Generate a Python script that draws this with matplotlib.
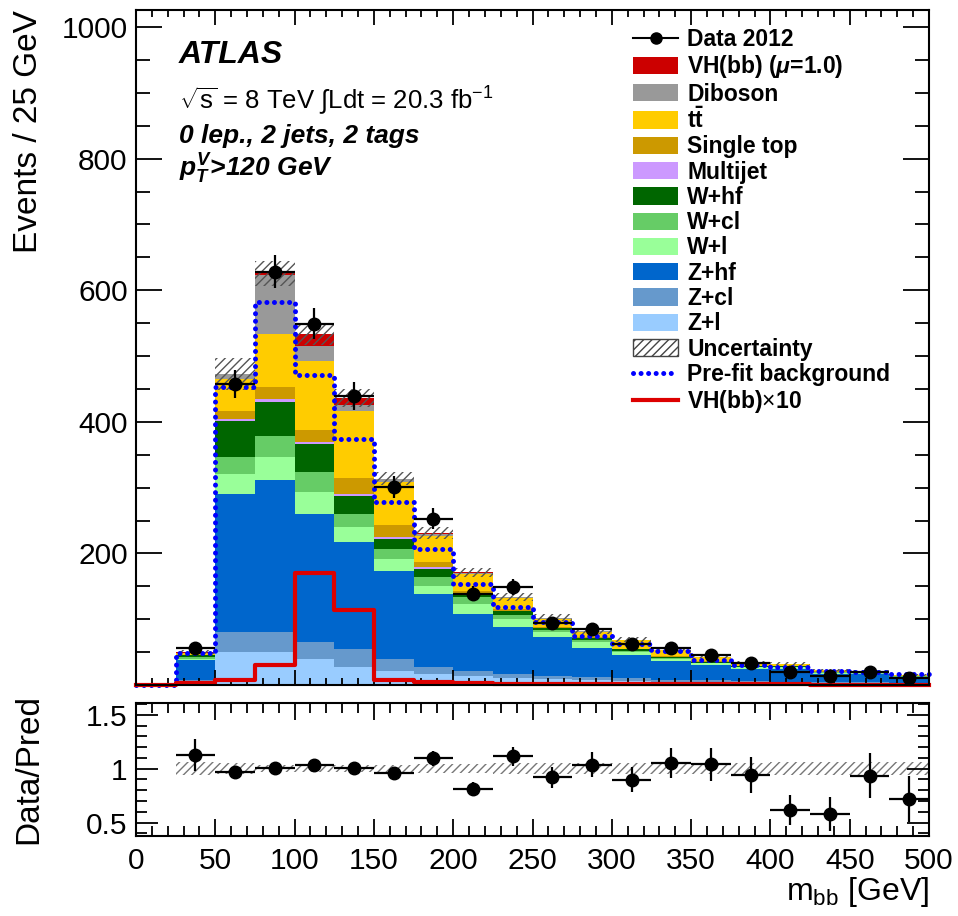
import numpy as np
import matplotlib
matplotlib.use('Agg')
import matplotlib.pyplot as plt
from matplotlib.patches import Patch
from matplotlib.lines import Line2D
from matplotlib.ticker import MultipleLocator, FixedLocator

plt.rcParams['font.family'] = ['Liberation Sans', 'DejaVu Sans']
plt.rcParams['mathtext.fontset'] = 'custom'
plt.rcParams['mathtext.rm'] = 'Liberation Sans'
plt.rcParams['mathtext.it'] = 'Liberation Sans:italic:bold'
plt.rcParams['mathtext.bf'] = 'Liberation Sans:bold'
plt.rcParams['hatch.linewidth'] = 1.0

# ---------------- data ----------------
bin_edges = np.arange(0, 525, 25)
data = [0, 56, 458, 628, 549, 439, 301, 253, 139, 149, 94, 85, 62, 56, 45, 33, 20, 13, 20, 11]

z_l   = [0, 4, 50, 50, 40, 27, 22, 17, 14, 11, 9, 7, 6, 5, 4, 3, 3, 2, 2, 2]
z_cl  = [0, 3, 30, 30, 25, 28, 18, 11, 8, 6, 5, 5, 4, 3, 3, 3, 2, 2, 2, 1]
z_hf  = [0, 31, 211, 231, 195, 162, 134, 111, 86, 71, 59, 45, 35, 29, 23, 19, 20, 13, 12.5, 8.5]
w_l   = [0, 2, 30, 36, 33, 23, 18, 12, 15, 13, 7, 8, 5, 3, 3, 2, 2, 1.5, 1.5, 1.2]
w_cl  = [0, 2, 26, 32, 31, 20, 15, 13, 11, 6, 3, 3, 2, 1, 1, 1, 1, 1, 0.8, 0.6]
w_hf  = [0, 3, 55, 51, 43, 28, 15, 13, 5, 5, 3, 3, 2, 1.5, 1, 1, 1, 0.8, 0.8, 0.6]
multijet = [0, 0.3, 3, 4, 3, 3, 3, 3, 1, 1, 0.5, 0.5, 0.3, 0.2, 0.2, 0.1, 0.1, 0.1, 0.1, 0.1]
single_top = [0, 1, 12, 19, 17, 23, 18, 7, 3, 2, 1.5, 1, 1, 0.8, 0.6, 0.5, 0.4, 0.3, 0.2, 0.2]
ttbar = [0, 2.5, 48, 81, 106, 103, 65, 40, 26, 17, 13, 8.5, 13, 9, 7, 5, 2.5, 1.5, 1.2, 1.0]
diboson = [0, 0.5, 7, 89, 23, 8, 5, 3, 2, 1.5, 1, 0.8, 0.7, 0.5, 0.4, 0.3, 0.3, 0.2, 0.2, 0.1]
vh = [0, 0.3, 0.7, 3, 17, 11.4, 0.8, 0.4, 0.3, 0.2, 0.2, 0.1, 0.1, 0.1, 0.1, 0.1, 0.1, 0.05, 0.05, 0.05]
prefit = [0, 48, 453, 582, 471, 374, 278, 207, 153, 118, 96, 74, 63, 51, 38, 30, 27, 22, 20, 17]
unc_frac = [0, 0.06, 0.05, 0.03, 0.03, 0.03, 0.03, 0.04, 0.04, 0.05, 0.05, 0.05, 0.05, 0.05,
            0.05, 0.05, 0.06, 0.06, 0.06, 0.06]

components = [
    ('Z+l', z_l, '#99ccff'),
    ('Z+cl', z_cl, '#6699cc'),
    ('Z+hf', z_hf, '#0066cc'),
    ('W+l', w_l, '#99ff99'),
    ('W+cl', w_cl, '#66cc66'),
    ('W+hf', w_hf, '#006600'),
    ('Multijet', multijet, '#cc99ff'),
    ('Single top', single_top, '#cc9900'),
    (r'$\mathbf{t\bar{t}}$', ttbar, '#ffcc00'),
    ('Diboson', diboson, '#999999'),
    (r'VH(bb) ($\mu$=1.0)', vh, '#cc0000'),
]

edges = np.array(bin_edges, dtype=float)
centers = 0.5 * (edges[:-1] + edges[1:])
halfw = 0.5 * (edges[1] - edges[0])
data = np.array(data, dtype=float)

W, H = 958, 916
fig = plt.figure(figsize=(W / 100, H / 100), dpi=100)
L, R = 136, 929
ax = fig.add_axes([L / W, 1 - 685 / H, (R - L) / W, (685 - 10) / H])
rax = fig.add_axes([L / W, 1 - 836 / H, (R - L) / W, (836 - 703) / H])

cum = np.zeros(len(centers))
for name, vals, col in components:
    v = np.array(vals, dtype=float)
    ax.stairs(cum + v, edges, baseline=cum, fill=True, color=col, linewidth=0)
    cum = cum + v
total = cum

unc = total * np.array(unc_frac)
ax.bar(edges[:-1], 2 * unc, bottom=total - unc, width=25, align='edge', fill=False,
       hatch='////', edgecolor='#555555', linewidth=0)

# pre-fit and signal x10
pf = np.array(prefit, dtype=float)
ax.step(edges, np.append(pf, pf[-1]), where='post', color='#0000ff', lw=3.6,
        linestyle=(0, (0.01, 1.5)), dash_capstyle='round', clip_on=False)
vh10 = np.array(vh) * 10
ax.step(edges, np.append(vh10, vh10[-1]), where='post', color='#dd0000', lw=3.0, clip_on=False)

m = data > 0
ax.errorbar(centers[m], data[m], yerr=np.sqrt(data[m]), xerr=halfw, fmt='o', color='black',
            ms=9, elinewidth=1.6, capsize=0)

ax.set_xlim(0, 500)
ax.set_ylim(0, 1026)
ax.set_yticks([200, 400, 600, 800, 1000])
ax.yaxis.set_minor_locator(MultipleLocator(50))
ax.xaxis.set_major_locator(MultipleLocator(50))
ax.xaxis.set_minor_locator(MultipleLocator(10))
ax.tick_params(which='both', direction='in', top=True, right=True, labelbottom=False,
               labelsize=21.5, width=1.3)
ax.tick_params(axis='y', which='major', length=19, pad=6)
ax.tick_params(axis='y', which='minor', length=10)
ax.tick_params(axis='x', which='major', length=11)
ax.tick_params(axis='x', which='minor', length=5)
for s in ax.spines.values():
    s.set_linewidth(1.5)
ax.set_ylabel('Events / 25 GeV', fontsize=24, loc='top')
ax.yaxis.set_label_coords(-0.116, 1.0)

# ratio panel
ratio = np.where(m, data / np.where(total > 0, total, 1), np.nan)
rerr = np.where(m, np.sqrt(data) / np.where(total > 0, total, 1), np.nan)
rel = np.array(unc_frac)
rm = total > 0
rax.bar(edges[:-1][rm], 2 * rel[rm], bottom=1 - rel[rm], width=25, align='edge', fill=False,
        hatch='////', edgecolor='#777777', linewidth=0)
rax.errorbar(centers[m], ratio[m], yerr=rerr[m], xerr=halfw, fmt='o', color='black',
             ms=9, elinewidth=1.6, capsize=0)
rax.set_xlim(0, 500)
rax.set_ylim(0.375, 1.61)
rax.yaxis.set_major_locator(FixedLocator([0.5, 1.0, 1.5]))
rax.set_yticklabels(['0.5', '1', '1.5'])
rax.yaxis.set_minor_locator(MultipleLocator(0.1))
rax.xaxis.set_major_locator(MultipleLocator(50))
rax.xaxis.set_minor_locator(MultipleLocator(10))
rax.tick_params(which='both', direction='in', top=True, right=True, labelsize=21.5, width=1.3)
rax.tick_params(axis='y', which='major', length=16, pad=6)
rax.tick_params(axis='y', which='minor', length=8)
rax.tick_params(axis='x', which='major', length=12, pad=8)
rax.tick_params(axis='x', which='minor', length=7)
for s in rax.spines.values():
    s.set_linewidth(1.5)
rax.set_ylabel('Data/Pred', fontsize=24)
rax.yaxis.set_label_coords(-0.116, 0.5)
rax.set_xlabel(r'$\mathrm{m_{bb}}$ [GeV]', fontsize=23, loc='right')
rax.xaxis.set_label_coords(1.0, -0.29)

# texts
def fx(x):
    return x / W
def fy(y):
    return 1 - y / H

fig.text(fx(179), fy(63), 'ATLAS', fontsize=23, fontweight='bold', style='italic', va='baseline')
fig.text(fx(179), fy(109), r'$\sqrt{\mathrm{s}}$ = 8 TeV $\int$Ldt = 20.3 fb$^{\mathrm{-1}}$',
         fontsize=18.5, va='baseline')
fig.text(fx(179), fy(143), '0 lep., 2 jets, 2 tags', fontsize=19, fontweight='bold',
         style='italic', va='baseline')
fig.text(fx(179), fy(177), r'$p_{T}^{V}$>120 GeV', fontsize=19, fontweight='bold',
         style='italic', va='baseline')

# legend
handles = [Line2D([], [], color='black', marker='o', ms=8, lw=1.5)]
labels = ['Data 2012']
for name, vals, col in reversed(components):
    handles.append(Patch(facecolor=col, edgecolor='none'))
    labels.append(name)
handles.append(Patch(facecolor='white', edgecolor='#444444', hatch='////', lw=1))
labels.append('Uncertainty')
handles.append(Line2D([], [], color='#0000ff', lw=3.6, linestyle=(0, (0.01, 1.5)),
                      dash_capstyle='round'))
labels.append('Pre-fit background')
handles.append(Line2D([], [], color='#dd0000', lw=3.0))
labels.append(r'VH(bb)$\times$10')

fig.legend(handles, labels, loc='upper left', bbox_to_anchor=(fx(633), fy(28)),
           frameon=False, prop={'size': 16.5, 'weight': 'bold'}, borderpad=0,
           borderaxespad=0, handlelength=1.97, handleheight=0.79, handletextpad=0.4,
           labelspacing=0.10)

fig.savefig('out.png', dpi=100)
